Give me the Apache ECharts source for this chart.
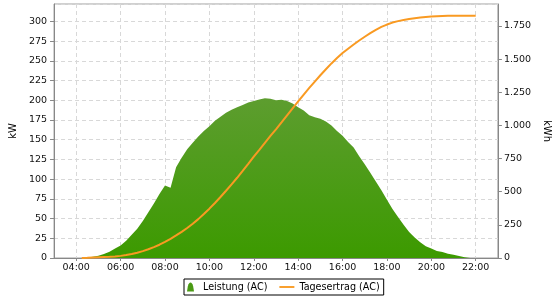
<!DOCTYPE html>
<html><head><meta charset="utf-8">
<script src="https://cdn.jsdelivr.net/npm/echarts@6/dist/echarts.min.js"></script>
<style>html,body{margin:0;padding:0;background:#fff}#c{width:560px;height:300px}</style>
</head><body><div id="c"></div>
<script>
const times = ['04:15','04:30','04:45','05:00','05:15','05:30','05:45','06:00','06:15','06:30','06:45','07:00','07:15','07:30','07:45','08:00','08:15','08:30','08:45','09:00','09:15','09:30','09:45','10:00','10:15','10:30','10:45','11:00','11:15','11:30','11:45','12:00','12:15','12:30','12:45','13:00','13:15','13:30','13:45','14:00','14:15','14:30','14:45','15:00','15:15','15:30','15:45','16:00','16:15','16:30','16:45','17:00','17:15','17:30','17:45','18:00','18:15','18:30','18:45','19:00','19:15','19:30','19:45','20:00','20:15','20:30','20:45','21:00','21:15','21:30','21:45','22:00'];
const leistung = [0,0.5,1.5,3,5,8,12,16,22,29.5,37,47,58,69,81,92,89,115,127,138,146,154,161,167,174,179,184,188,191,194,197,199,201,202.5,202,200,200.5,199,196,191,187,181,178.5,176.5,173,168,161,155,147,140,129,119,108,97,86,74,62,52,42,33,26,20,15,12,9,7.5,5.5,4,2.5,1,0,0];
const tagesertrag = [0,1,3,5,7,9,12,16,22,30,40,52,66,82,100,122,145,170,197,226,258,293,332,372,415,460,507,555,605,657,710,765,816,868,920,970,1022,1075,1128,1180,1232,1282,1330,1378,1423,1467,1508,1545,1578,1610,1640,1668,1695,1720,1742,1760,1775,1786,1795,1802,1808,1813,1817,1820,1823,1825,1826,1827,1827,1827,1827,1827];
const seriesNames = ['Leistung (AC)','Tagesertrag (AC)'];
const axisNames = ['kW','kWh'];

function toHours(s){const p=s.split(':');return +p[0]+ +p[1]/60;}
function pad(n){return (n<10?'0':'')+n;}
const powerData = times.map((t,i)=>[toHours(t),leistung[i]]);
const energyData = times.map((t,i)=>[toHours(t),tagesertrag[i]]);

const FONT = 'DejaVu Sans';
const GRID = {show:true,lineStyle:{color:'#d8d8d8',type:[4,3],width:1}};
const chart = echarts.init(document.getElementById('c'), null, {renderer:'canvas'});
chart.setOption({
  animation:false,
  backgroundColor:'#fff',
  textStyle:{fontFamily:FONT},
  grid:{left:52,right:62,top:4,bottom:42,show:true,borderColor:'#a0a0a0',borderWidth:1,backgroundColor:'transparent'},
  legend:{
    left:184, top:279, padding:[3,4,3,3], itemGap:12, itemWidth:15, itemHeight:9,
    borderColor:'#000', borderWidth:1,
    textStyle:{fontFamily:FONT,fontSize:9.6,color:'#000',padding:[1,0,0,0]},
    data:[
      {name:seriesNames[0], icon:'path://M0,9 L0.8,4 C1.5,1 2.5,0 3.5,0 C4.5,0 5.5,1 6.2,4 L7,9 Z', itemStyle:{color:'#4a9a14'}},
      {name:seriesNames[1], icon:'path://M0,0 L16,0 L16,2 L0,2 Z', itemStyle:{color:'#f99a22'}}
    ]
  },
  xAxis:{
    type:'value', min:3, max:23, splitNumber:10,
    axisLine:{show:true,lineStyle:{color:'#888',width:1}},
    axisTick:{show:true,length:3,lineStyle:{color:'#888'}},
    axisLabel:{margin:5,color:'#111',fontSize:9.5,fontFamily:FONT,showMinLabel:false,showMaxLabel:false,
      formatter:v=>pad(Math.round(v))+':00'},
    splitLine:GRID
  },
  yAxis:[
    {type:'value', min:0, max:322, interval:25, position:'left',
      name:axisNames[0], nameLocation:'middle', nameGap:30, nameRotate:90,
      nameTextStyle:{fontFamily:FONT,fontSize:10,color:'#000'},
      axisLine:{show:true,lineStyle:{color:'#888'}},
      axisTick:{show:true,length:4,lineStyle:{color:'#888'}},
      axisLabel:{margin:7,color:'#111',fontSize:9.5,fontFamily:FONT,showMaxLabel:false},
      splitLine:GRID
    },
    {type:'value', min:0, max:1915, interval:250, position:'right',
      name:axisNames[1], nameLocation:'middle', nameGap:40, nameRotate:-90,
      nameTextStyle:{fontFamily:FONT,fontSize:10,color:'#000'},
      axisLine:{show:true,lineStyle:{color:'#888'}},
      axisTick:{show:true,length:4,lineStyle:{color:'#888'}},
      axisLabel:{margin:6,color:'#111',fontSize:9.5,fontFamily:FONT,showMaxLabel:false,
        formatter:v=>v>=1000?Math.floor(v/1000)+'.'+String(v%1000).padStart(3,'0'):String(v)},
      splitLine:{show:false}
    }
  ],
  series:[
    {name:seriesNames[0], type:'line', yAxisIndex:0, data:powerData, showSymbol:false, symbol:'none',
      lineStyle:{width:0,color:'#4a9a14'}, itemStyle:{color:'#4a9a14'},
      areaStyle:{opacity:1,color:new echarts.graphic.LinearGradient(0,0,0,1,[{offset:0,color:'#5d9d2f'},{offset:1,color:'#3c9a00'}])},
      z:2},
    {name:seriesNames[1], type:'line', yAxisIndex:1, data:energyData, showSymbol:false, symbol:'none',
      lineStyle:{width:2,color:'#f99a22'}, itemStyle:{color:'#f99a22'}, z:3}
  ]
});
</script></body></html>
